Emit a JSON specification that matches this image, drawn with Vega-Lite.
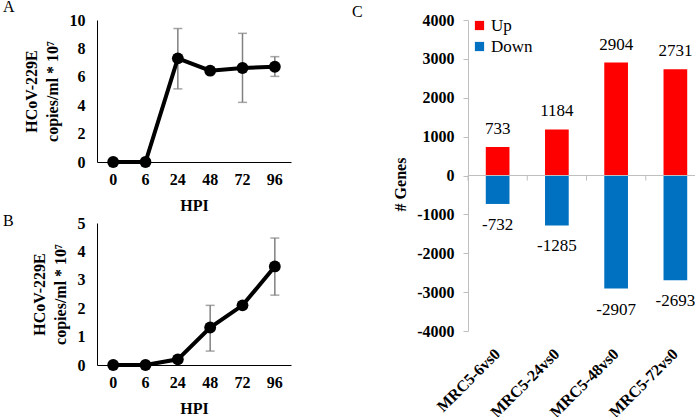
{
  "$schema": "https://vega.github.io/schema/vega-lite/v6.json",
  "background": "white",
  "padding": {"left": 3, "top": -1, "right": 0, "bottom": 0},
  "config": {
    "font": "Liberation Serif",
    "view": {"stroke": null},
    "axis": {"labelFont": "Liberation Serif", "titleFont": "Liberation Serif", "labelFontWeight": "bold", "titleFontWeight": "bold", "labelFontSize": 16, "titleFontSize": 16, "labelColor": "black", "titleColor": "black", "grid": false, "labelOverlap": false},
    "title": {"font": "Liberation Serif", "fontSize": 16, "fontWeight": "normal", "color": "black", "anchor": "start", "frame": "group"}
  },
  "datasets": {
    "a": [
      {"hpi": "0", "v": 0}, {"hpi": "6", "v": 0},
      {"hpi": "24", "v": 7.3, "lo": 5.15, "hi": 9.4},
      {"hpi": "48", "v": 6.43},
      {"hpi": "72", "v": 6.62, "lo": 4.2, "hi": 9.06},
      {"hpi": "96", "v": 6.71, "lo": 6.03, "hi": 7.42}
    ],
    "b": [
      {"hpi": "0", "v": 0}, {"hpi": "6", "v": 0},
      {"hpi": "24", "v": 0.2},
      {"hpi": "48", "v": 1.32, "lo": 0.49, "hi": 2.1},
      {"hpi": "72", "v": 2.1},
      {"hpi": "96", "v": 3.47, "lo": 2.46, "hi": 4.47}
    ],
    "c": [
      {"cond": "MRC5-6vs0", "dir": "Up", "n": 733},
      {"cond": "MRC5-24vs0", "dir": "Up", "n": 1184},
      {"cond": "MRC5-48vs0", "dir": "Up", "n": 2904},
      {"cond": "MRC5-72vs0", "dir": "Up", "n": 2731},
      {"cond": "MRC5-6vs0", "dir": "Down", "n": -732},
      {"cond": "MRC5-24vs0", "dir": "Down", "n": -1285},
      {"cond": "MRC5-48vs0", "dir": "Down", "n": -2907},
      {"cond": "MRC5-72vs0", "dir": "Down", "n": -2693}
    ]
  },
  "spacing": 61,
  "resolve": {"scale": {"color": "independent"}, "legend": {"color": "independent"}},
  "hconcat": [
    {
      "spacing": 0,
      "vconcat": [
        {
          "width": 194, "height": 142,
          "title": {"text": "A", "dx": -94, "offset": -3},
          "data": {"name": "a"},
          "encoding": {"x": {"field": "hpi", "type": "ordinal", "sort": ["0", "6", "24", "48", "72", "96"], "title": "HPI",
            "axis": {"labelAngle": 0, "ticks": false, "domainColor": "black", "domainWidth": 1, "labelPadding": 9, "titlePadding": 10, "labelOverlap": false}}},
          "layer": [
            {"transform": [{"filter": "isValid(datum.hi)"}], "mark": {"type": "rule", "color": "#808080", "strokeWidth": 1.5},
             "encoding": {"y": {"field": "lo", "type": "quantitative", "title": ["HCoV-229E", "copies/ml * 10⁷"], "axis": {"values": [0, 2, 4, 6, 8, 10], "labelOverlap": false, "labelBound": false}}, "y2": {"field": "hi"}}},
            {"transform": [{"filter": "isValid(datum.hi)"}], "mark": {"type": "tick", "color": "#808080", "size": 9, "thickness": 1.5},
             "encoding": {"y": {"field": "lo", "type": "quantitative", "title": ["HCoV-229E", "copies/ml * 10⁷"], "axis": {"values": [0, 2, 4, 6, 8, 10], "labelOverlap": false}}}},
            {"transform": [{"filter": "isValid(datum.hi)"}], "mark": {"type": "tick", "color": "#808080", "size": 9, "thickness": 1.5},
             "encoding": {"y": {"field": "hi", "type": "quantitative", "title": ["HCoV-229E", "copies/ml * 10⁷"], "axis": {"values": [0, 2, 4, 6, 8, 10], "labelOverlap": false}}}},
            {"mark": {"type": "line", "color": "black", "strokeWidth": 4},
             "encoding": {"y": {"field": "v", "type": "quantitative", "title": ["HCoV-229E", "copies/ml * 10⁷"],
               "scale": {"domain": [0, 10], "nice": false},
               "axis": {"values": [0, 2, 4, 6, 8, 10], "labelOverlap": false, "labelBound": false, "ticks": false, "domainColor": "black", "labelPadding": 12, "titlePadding": 9, "titleLineHeight": 21}}}},
            {"mark": {"type": "point", "filled": true, "color": "black", "size": 140, "opacity": 1},
             "encoding": {"y": {"field": "v", "type": "quantitative", "title": ["HCoV-229E", "copies/ml * 10⁷"], "axis": {"values": [0, 2, 4, 6, 8, 10], "labelOverlap": false}}}}
          ]
        },
        {
          "width": 194, "height": 142,
          "title": {"text": "B", "dx": -94, "offset": -14},
          "data": {"name": "b"},
          "encoding": {"x": {"field": "hpi", "type": "ordinal", "sort": ["0", "6", "24", "48", "72", "96"], "title": "HPI",
            "axis": {"labelAngle": 0, "ticks": false, "domainColor": "black", "domainWidth": 1, "labelPadding": 9, "titlePadding": 10, "labelOverlap": false}}},
          "layer": [
            {"transform": [{"filter": "isValid(datum.hi)"}], "mark": {"type": "rule", "color": "#808080", "strokeWidth": 1.5},
             "encoding": {"y": {"field": "lo", "type": "quantitative", "title": ["HCoV-229E", "copies/ml * 10⁷"], "axis": {"values": [0, 1, 2, 3, 4, 5], "labelOverlap": false}}, "y2": {"field": "hi"}}},
            {"transform": [{"filter": "isValid(datum.hi)"}], "mark": {"type": "tick", "color": "#808080", "size": 9, "thickness": 1.5},
             "encoding": {"y": {"field": "lo", "type": "quantitative", "title": ["HCoV-229E", "copies/ml * 10⁷"], "axis": {"values": [0, 1, 2, 3, 4, 5], "labelOverlap": false}}}},
            {"transform": [{"filter": "isValid(datum.hi)"}], "mark": {"type": "tick", "color": "#808080", "size": 9, "thickness": 1.5},
             "encoding": {"y": {"field": "hi", "type": "quantitative", "title": ["HCoV-229E", "copies/ml * 10⁷"], "axis": {"values": [0, 1, 2, 3, 4, 5], "labelOverlap": false}}}},
            {"mark": {"type": "line", "color": "black", "strokeWidth": 4},
             "encoding": {"y": {"field": "v", "type": "quantitative", "title": ["HCoV-229E", "copies/ml * 10⁷"],
               "scale": {"domain": [0, 5], "nice": false},
               "axis": {"values": [0, 1, 2, 3, 4, 5], "labelOverlap": false, "labelBound": false, "ticks": false, "domainColor": "black", "labelPadding": 12, "titlePadding": 9, "titleLineHeight": 21}}}},
            {"mark": {"type": "point", "filled": true, "color": "black", "size": 140, "opacity": 1},
             "encoding": {"y": {"field": "v", "type": "quantitative", "title": ["HCoV-229E", "copies/ml * 10⁷"], "axis": {"values": [0, 1, 2, 3, 4, 5], "labelOverlap": false}}}}
          ]
        }
      ]
    },
    {
      "width": 237, "height": 311,
      "title": {"text": "C", "dx": -116, "offset": -8},
      "data": {"name": "c"},
      "encoding": {
        "x": {"field": "cond", "type": "nominal", "sort": ["MRC5-6vs0", "MRC5-24vs0", "MRC5-48vs0", "MRC5-72vs0"], "title": null,
          "scale": {"paddingInner": 0.6, "paddingOuter": 0.3},
          "axis": {"labelAngle": -45, "labelAlign": "right", "labelBaseline": "middle", "domain": false, "ticks": false, "labelPadding": 20, "labelOverlap": false}},
        "y": {"field": "n", "type": "quantitative", "title": "# Genes",
          "scale": {"domain": [-4000, 4000], "nice": false},
          "axis": {"values": [-4000, -3000, -2000, -1000, 0, 1000, 2000, 3000, 4000], "labelOverlap": false, "labelBound": false, "labelExpr": "'' + datum.value", "domainColor": "#bfbfbf", "tickColor": "#bfbfbf", "tickSize": 5, "labelPadding": 9, "titlePadding": 8, "titleY": 164}}
      },
      "layer": [
        {"mark": {"type": "bar"},
         "encoding": {
           "color": {"field": "dir", "type": "nominal", "title": null,
             "scale": {"domain": ["Up", "Down"], "range": ["#ff0000", "#0070c0"]},
             "legend": {"orient": "none", "legendX": 3, "legendY": -3, "symbolType": "square", "symbolSize": 85, "symbolStrokeWidth": 0, "labelFont": "Liberation Serif", "labelFontSize": 17, "labelColor": "black", "rowPadding": 3, "labelOffset": 3}}
         }},
        {"transform": [{"filter": "datum.dir == 'Up'"}],
         "mark": {"type": "text", "baseline": "bottom", "dy": -9, "fontSize": 17, "font": "Liberation Serif", "color": "black"},
         "encoding": {"text": {"field": "n", "type": "nominal"}}},
        {"transform": [{"filter": "datum.dir == 'Down'"}],
         "mark": {"type": "text", "baseline": "top", "dy": 13, "fontSize": 17, "font": "Liberation Serif", "color": "black"},
         "encoding": {"text": {"field": "n", "type": "nominal"}}},
        {"transform": [{"filter": "datum.dir == 'Up'"}],
         "mark": {"type": "rule", "color": "#bfbfbf", "strokeWidth": 1},
         "encoding": {"x": {"field": "cond", "type": "nominal", "bandPosition": -0.75}, "y": {"datum": 0}, "y2": {"datum": -130}}},
        {"mark": {"type": "rule", "color": "#bfbfbf", "strokeWidth": 1},
         "encoding": {"x": null, "y": {"datum": 0}}}
      ]
    }
  ]
}
